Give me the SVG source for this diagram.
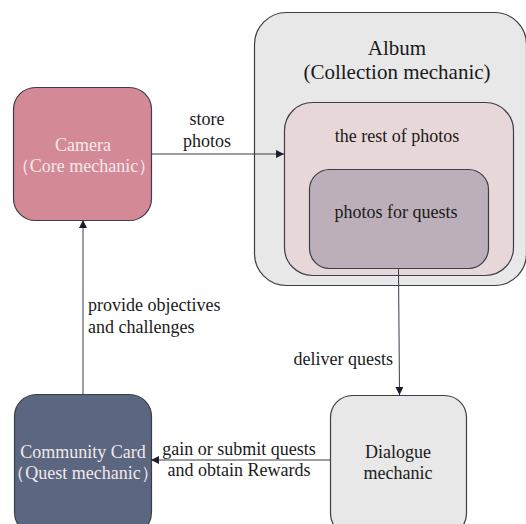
<svg xmlns="http://www.w3.org/2000/svg" width="526" height="524" viewBox="0 0 526 524">
<style>
text{font-family:'Liberation Serif','Times New Roman',Times,'DejaVu Serif',serif;font-size:18px;fill:#1a1a1a;text-anchor:middle}
.lt{fill:#f3e8ea}
.ttl{font-size:21px}
.box{stroke:#3d3d45;stroke-width:1.2}
.con{stroke:#3a3a48;stroke-width:1;fill:none}
</style>
<defs>
<marker id="ah" viewBox="0 0 10 10" refX="10" refY="5" markerWidth="8" markerHeight="8" markerUnits="userSpaceOnUse" orient="auto">
<path d="M0,0 L10,5 L0,10 z" fill="#1c1c2c"/>
</marker>
</defs>
<g id="album">
<rect class="box" x="254.5" y="12.5" width="272" height="273" rx="32" fill="#e8e8e8"/>
<text class="ttl" x="397" y="55">Album</text>
<text class="ttl" x="397" y="79">(Collection mechanic)</text>
</g>
<g id="rest-photos">
<rect class="box" x="284.5" y="102.5" width="229" height="173" rx="28" fill="#e7d7d9"/>
<text x="397" y="142">the rest of photos</text>
</g>
<g id="quest-photos">
<rect class="box" x="309.5" y="169.5" width="179" height="99" rx="20" fill="#bcafb9"/>
<text x="396" y="218">photos for quests</text>
</g>
<g id="camera">
<rect class="box" x="13.5" y="87.5" width="138" height="133" rx="22" fill="#d48a96"/>
<text class="lt" x="83" y="151">Camera</text>
<text class="lt" x="84" y="172">（Core mechanic）</text>
</g>
<g id="community">
<rect class="box" x="14.5" y="394.5" width="137" height="140" rx="22" fill="#5b6680"/>
<text class="lt" x="83" y="458">Community Card</text>
<text class="lt" x="83" y="479">（Quest mechanic）</text>
</g>
<g id="dialogue">
<rect class="box" x="330.5" y="395.5" width="136" height="140" rx="22" fill="#e8e8e8"/>
<text x="398" y="458">Dialogue</text>
<text x="398" y="479">mechanic</text>
</g>
<g id="connectors">
<line class="con" x1="151" y1="154" x2="284" y2="154" marker-end="url(#ah)"/>
<text x="207" y="125">store</text>
<text x="207" y="147">photos</text>
<line class="con" x1="398.5" y1="268" x2="399.5" y2="395" marker-end="url(#ah)"/>
<text x="393" y="365" style="text-anchor:end">deliver quests</text>
<line class="con" x1="330" y1="460" x2="151" y2="460" marker-end="url(#ah)"/>
<text x="239" y="455">gain or submit quests</text>
<text x="239" y="476">and obtain Rewards</text>
<line class="con" x1="83" y1="394" x2="83" y2="220" marker-end="url(#ah)"/>
<text x="88" y="311" style="text-anchor:start">provide objectives</text>
<text x="88" y="333" style="text-anchor:start">and challenges</text>
</g>
</svg>
